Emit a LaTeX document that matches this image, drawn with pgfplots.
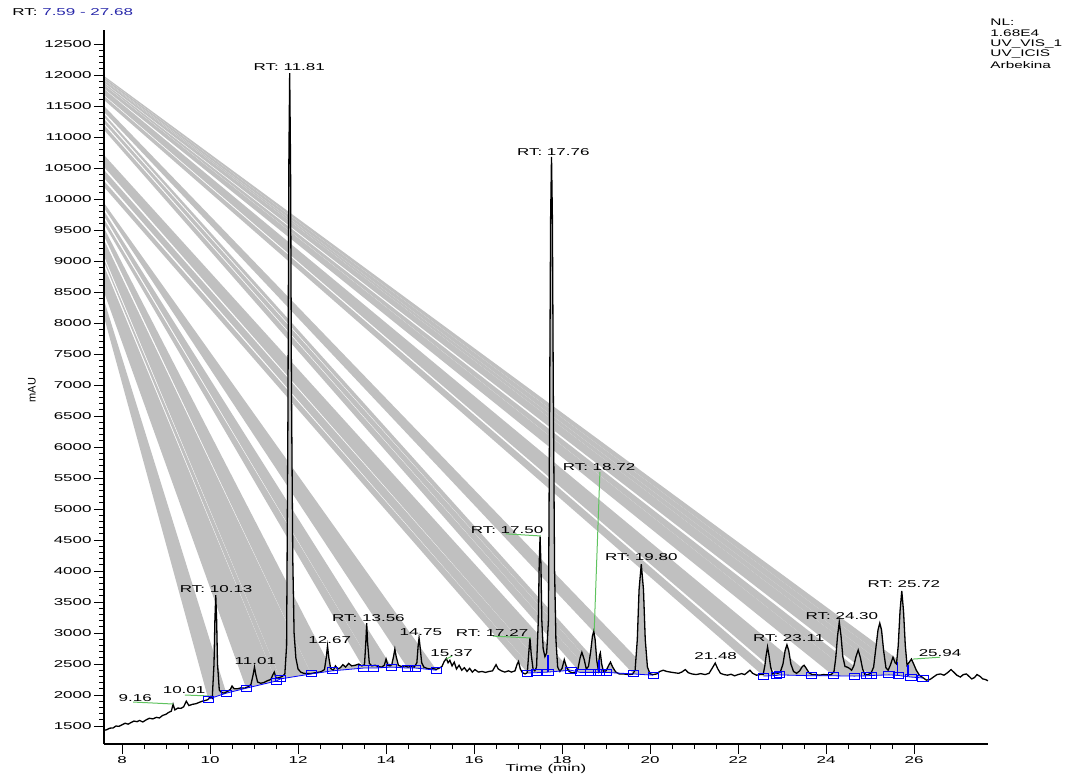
\documentclass[border=0pt]{standalone}
\usepackage{pgfplots}
\pgfplotsset{compat=1.18}
\usepackage{pgfplotstable}
\usepackage{fontspec}
\setmainfont{Liberation Sans}
\usepackage{graphicx}
\newcommand{\st}[1]{\scalebox{1.7}[1]{#1}}
\newcommand{\fs}{\fontsize{5}{6}\selectfont}
\definecolor{bandgray}{RGB}{192,192,192}
\definecolor{lgreen}{RGB}{95,195,95}
\definecolor{rtblue}{RGB}{40,40,170}

\pgfplotstableread{
t v
7.59 1430
7.65 1440
7.72 1465
7.80 1470
7.86 1500
7.93 1495
8.00 1520
8.07 1545
8.14 1530
8.20 1555
8.27 1580
8.34 1570
8.40 1590
8.47 1565
8.55 1600
8.62 1625
8.70 1615
8.78 1640
8.85 1630
8.92 1670
9.00 1690
9.06 1720
9.12 1740
9.16 1850
9.20 1760
9.27 1790
9.34 1785
9.40 1810
9.46 1900
9.52 1830
9.60 1850
9.68 1860
9.75 1880
9.82 1900
9.88 1910
9.95 1925
10.01 1975
10.05 1950
10.09 2500
10.11 3200
10.13 3610
10.15 3200
10.17 2500
10.21 2080
10.26 2040
10.32 2030
10.40 2060
10.46 2090
10.50 2145
10.55 2100
10.62 2100
10.70 2115
10.78 2110
10.86 2130
10.93 2170
10.98 2330
11.01 2450
11.04 2330
11.08 2210
11.15 2190
11.22 2200
11.30 2230
11.38 2250
11.43 2330
11.46 2370
11.50 2270
11.57 2280
11.64 2300
11.70 2340
11.74 2800
11.77 6500
11.79 10500
11.81 12030
11.83 10500
11.85 7000
11.88 4200
11.91 3000
11.95 2600
12.00 2420
12.06 2370
12.13 2350
12.20 2345
12.28 2345
12.36 2355
12.44 2365
12.52 2375
12.60 2410
12.64 2600
12.67 2790
12.70 2600
12.74 2430
12.80 2400
12.85 2470
12.90 2420
12.96 2440
13.02 2490
13.08 2450
13.15 2510
13.22 2470
13.30 2480
13.38 2500
13.45 2470
13.51 2490
13.54 2850
13.56 3160
13.58 2850
13.62 2510
13.68 2470
13.75 2480
13.82 2460
13.90 2450
13.96 2480
14.00 2580
14.04 2480
14.09 2470
14.13 2490
14.17 2620
14.20 2740
14.23 2620
14.28 2480
14.35 2460
14.42 2470
14.50 2450
14.57 2460
14.64 2450
14.70 2520
14.73 2800
14.75 2920
14.77 2800
14.81 2520
14.86 2450
14.93 2430
15.00 2420
15.07 2425
15.14 2415
15.20 2430
15.27 2460
15.32 2540
15.37 2590
15.41 2520
15.45 2560
15.50 2470
15.55 2530
15.60 2420
15.66 2480
15.72 2400
15.78 2440
15.84 2380
15.90 2430
15.96 2370
16.02 2410
16.10 2370
16.18 2380
16.26 2365
16.34 2380
16.42 2390
16.46 2440
16.50 2490
16.55 2420
16.62 2390
16.70 2370
16.78 2390
16.85 2370
16.93 2390
16.98 2500
17.01 2540
17.05 2420
17.10 2360
17.16 2340
17.21 2360
17.24 2650
17.27 2920
17.30 2650
17.34 2420
17.38 2390
17.42 2450
17.46 3200
17.48 4100
17.50 4560
17.52 4100
17.54 3200
17.57 2750
17.61 2620
17.65 2680
17.69 3200
17.72 7000
17.74 9700
17.76 10680
17.78 9700
17.80 7000
17.83 4000
17.86 2900
17.90 2450
17.95 2380
18.00 2430
18.05 2570
18.10 2450
18.16 2380
18.22 2360
18.30 2360
18.36 2420
18.41 2600
18.45 2690
18.50 2580
18.55 2420
18.60 2460
18.65 2700
18.69 2950
18.72 3030
18.75 2900
18.79 2550
18.82 2420
18.85 2640
18.87 2680
18.90 2500
18.94 2380
19.00 2390
19.06 2480
19.10 2530
19.15 2450
19.22 2370
19.30 2340
19.40 2340
19.50 2330
19.60 2335
19.66 2400
19.71 2900
19.75 3700
19.80 4110
19.85 3700
19.89 2900
19.94 2450
20.00 2340
20.07 2330
20.15 2340
20.22 2380
20.30 2400
20.38 2380
20.46 2370
20.55 2360
20.65 2350
20.72 2370
20.80 2410
20.87 2360
20.95 2340
21.05 2330
21.15 2345
21.25 2330
21.34 2350
21.41 2430
21.48 2515
21.54 2420
21.60 2350
21.68 2330
21.76 2320
21.84 2335
21.92 2310
22.00 2330
22.08 2345
22.15 2330
22.22 2370
22.27 2400
22.33 2350
22.42 2320
22.50 2330
22.57 2330
22.61 2480
22.64 2650
22.67 2775
22.70 2650
22.74 2450
22.79 2340
22.85 2360
22.90 2350
22.96 2370
23.02 2500
23.07 2720
23.11 2810
23.15 2720
23.20 2500
23.26 2380
23.33 2350
23.40 2390
23.46 2460
23.50 2480
23.55 2430
23.61 2360
23.68 2330
23.76 2330
23.85 2320
23.94 2330
24.03 2325
24.12 2330
24.18 2380
24.22 2600
24.26 2950
24.30 3180
24.34 2950
24.38 2620
24.43 2460
24.48 2450
24.53 2430
24.58 2400
24.63 2470
24.68 2620
24.73 2725
24.78 2600
24.83 2420
24.88 2330
24.95 2330
25.02 2350
25.08 2450
25.13 2750
25.18 3050
25.22 3160
25.26 3050
25.31 2700
25.36 2440
25.41 2400
25.46 2480
25.52 2610
25.57 2520
25.60 2500
25.64 2800
25.68 3350
25.72 3680
25.76 3350
25.80 2800
25.84 2480
25.88 2520
25.94 2580
25.99 2500
26.05 2400
26.12 2320
26.20 2280
26.28 2240
26.36 2250
26.44 2290
26.52 2330
26.60 2340
26.68 2320
26.76 2360
26.84 2410
26.90 2370
26.97 2320
27.05 2290
27.12 2330
27.19 2340
27.25 2300
27.31 2260
27.37 2280
27.43 2330
27.50 2300
27.56 2260
27.62 2250
27.68 2230
}\trace

\begin{document}
\begin{tikzpicture}
\begin{axis}[
  at={(0,0)}, anchor=south west, scale only axis,
  width=442pt, height=357pt,
  xmin=7.59, xmax=27.68, ymin=1210, ymax=12726,
  scaled x ticks=false, scaled y ticks=false,
  axis on top,
  axis x line*=bottom, axis y line*=left,
  axis line style={black, line width=0.6pt, -},
  tick align=outside,
  major tick length=5pt, minor tick length=2.5pt,
  tick style={black, line width=0.5pt},
  xtick={8,10,12,14,16,18,20,22,24,26},
  xticklabels={\st{8},\st{10},\st{12},\st{14},\st{16},\st{18},\st{20},\st{22},\st{24},\st{26}},
  minor x tick num=3,
  ytick={1500,2000,2500,3000,3500,4000,4500,5000,5500,6000,6500,7000,7500,8000,8500,9000,9500,10000,10500,11000,11500,12000,12500},
  yticklabels={\st{1500},\st{2000},\st{2500},\st{3000},\st{3500},\st{4000},\st{4500},\st{5000},\st{5500},\st{6000},\st{6500},\st{7000},\st{7500},\st{8000},\st{8500},\st{9000},\st{9500},\st{10000},\st{10500},\st{11000},\st{11500},\st{12000},\st{12500}},
  minor y tick num=4,
  tick label style={font=\fs, inner sep=1pt},
]
% bands
\addplot[draw=none, fill=bandgray, forget plot] coordinates {(7.59,11662) (22.87,2315) (22.58,2305) (7.59,11597)};
\addplot[draw=none, fill=bandgray, forget plot] coordinates {(7.59,11775) (23.67,2310) (22.94,2325) (7.59,11678)};
\addplot[draw=none, fill=bandgray, forget plot] coordinates {(7.59,11839) (24.65,2305) (24.17,2310) (7.59,11783)};
\addplot[draw=none, fill=bandgray, forget plot] coordinates {(7.59,11872) (24.92,2310) (24.65,2305) (7.59,11845)};
\addplot[draw=none, fill=bandgray, forget plot] coordinates {(7.59,11912) (25.43,2325) (25.02,2315) (7.59,11880)};
\addplot[draw=none, fill=bandgray, forget plot] coordinates {(7.59,11928) (25.65,2315) (25.43,2325) (7.59,11914)};
\addplot[draw=none, fill=bandgray, forget plot] coordinates {(7.59,11960) (25.93,2290) (25.65,2315) (7.59,11930)};
\addplot[draw=none, fill=bandgray, forget plot] coordinates {(7.59,11985) (26.20,2275) (25.93,2290) (7.59,11962)};
\addplot[draw=none, fill=bandgray, forget plot] coordinates {(7.59,11501) (20.07,2320) (19.62,2340) (7.59,11404)};
\addplot[draw=none, fill=bandgray, forget plot] coordinates {(7.59,11372) (19.00,2365) (18.84,2365) (7.59,11323)};
\addplot[draw=none, fill=bandgray, forget plot] coordinates {(7.59,11291) (18.84,2365) (18.64,2365) (7.59,11227)};
\addplot[draw=none, fill=bandgray, forget plot] coordinates {(7.59,11194) (18.64,2365) (18.41,2365) (7.59,11114)};
\addplot[draw=none, fill=bandgray, forget plot] coordinates {(7.59,10710) (18.20,2400) (17.68,2370) (7.59,10517)};
\addplot[draw=none, fill=bandgray, forget plot] coordinates {(7.59,10468) (17.68,2370) (17.41,2360) (7.59,10339)};
\addplot[draw=none, fill=bandgray, forget plot] coordinates {(7.59,10290) (17.41,2360) (17.22,2355) (7.59,10194)};
\addplot[draw=none, fill=bandgray, forget plot] coordinates {(7.59,9936) (15.15,2400) (14.49,2435) (7.59,9855)};
\addplot[draw=none, fill=bandgray, forget plot] coordinates {(7.59,9807) (14.13,2450) (13.72,2435) (7.59,9726)};
\addplot[draw=none, fill=bandgray, forget plot] coordinates {(7.59,9678) (13.72,2435) (13.49,2435) (7.59,9597)};
\addplot[draw=none, fill=bandgray, forget plot] coordinates {(7.59,9533) (12.78,2390) (12.30,2340) (7.59,9404)};
\addplot[draw=none, fill=bandgray, forget plot] coordinates {(7.59,9339) (12.30,2340) (11.60,2260) (7.59,9081)};
\addplot[draw=none, fill=bandgray, forget plot] coordinates {(7.59,9033) (11.60,2260) (11.50,2225) (7.59,8984)};
\addplot[draw=none, fill=bandgray, forget plot] coordinates {(7.59,8920) (11.50,2225) (10.82,2110) (7.59,8500)};
\addplot[draw=none, fill=bandgray, forget plot] coordinates {(7.59,8371) (10.37,2030) (9.96,1935) (7.59,8097)};
% peak areas: gray under trace, white under baseline
\addplot[draw=none, fill=bandgray, forget plot, restrict x to domain=9.96:15.15] table[x=t,y=v] {\trace} \closedcycle;
\addplot[draw=none, fill=bandgray, forget plot, restrict x to domain=17.22:20.07] table[x=t,y=v] {\trace} \closedcycle;
\addplot[draw=none, fill=bandgray, forget plot, restrict x to domain=22.58:26.20] table[x=t,y=v] {\trace} \closedcycle;
\addplot[draw=none, fill=white, forget plot] coordinates {(9.80,1935) (9.96,1935) (10.37,2030) (10.82,2110) (11.50,2225) (11.60,2260) (12.30,2340) (12.78,2390) (13.49,2435) (13.72,2435) (14.13,2450) (14.49,2435) (14.67,2435) (15.15,2400) (15.30,2400)} \closedcycle;
\addplot[draw=none, fill=white, forget plot] coordinates {(17.10,2355) (17.22,2355) (17.41,2360) (17.68,2370) (18.20,2400) (18.41,2365) (18.64,2365) (18.84,2365) (19.00,2365) (19.62,2340) (20.07,2320) (20.20,2320)} \closedcycle;
\addplot[draw=none, fill=white, forget plot] coordinates {(22.45,2305) (22.58,2305) (22.87,2315) (22.94,2325) (23.67,2310) (24.17,2310) (24.65,2305) (24.92,2310) (25.02,2315) (25.43,2325) (25.65,2315) (25.93,2290) (26.20,2275) (26.35,2275)} \closedcycle;
% trace
\addplot[black, line width=0.65pt] table[x=t,y=v] {\trace};
% baselines
\addplot[blue, line width=0.4pt, mark=square, mark size=1.5pt, mark options={solid, line width=0.45pt, xscale=1.7}] coordinates {(9.96,1935) (10.37,2030) (10.82,2110) (11.50,2225) (11.60,2260) (12.30,2340) (12.78,2390) (13.49,2435) (13.72,2435) (14.13,2450) (14.49,2435) (14.67,2435) (15.15,2400)};
\addplot[blue, line width=0.4pt, mark=square, mark size=1.5pt, mark options={solid, line width=0.45pt, xscale=1.7}] coordinates {(17.22,2355) (17.41,2360) (17.68,2370) (18.20,2400) (18.41,2365) (18.64,2365) (18.84,2365) (19.00,2365) (19.62,2340) (20.07,2320)};
\addplot[blue, line width=0.4pt, mark=square, mark size=1.5pt, mark options={solid, line width=0.45pt, xscale=1.7}] coordinates {(22.58,2305) (22.87,2315) (22.94,2325) (23.67,2310) (24.17,2310) (24.65,2305) (24.92,2310) (25.02,2315) (25.43,2325) (25.65,2315) (25.93,2290) (26.20,2275)};
\addplot[blue, line width=0.7pt] coordinates {(17.68,2370) (17.68,2640)};
\addplot[blue, line width=0.7pt] coordinates {(18.84,2365) (18.84,2560)};
\addplot[blue, line width=0.7pt] coordinates {(25.62,2320) (25.62,2530)};
\addplot[blue, line width=0.7pt] coordinates {(25.86,2300) (25.86,2480)};
% green leaders
\addplot[lgreen, line width=0.5pt] coordinates {(8.25,1887) (9.16,1855)};
\addplot[lgreen, line width=0.5pt] coordinates {(9.43,2000) (9.98,1985)};
\addplot[lgreen, line width=0.5pt] coordinates {(15.37,2580) (15.50,2630)};
\addplot[lgreen, line width=0.5pt] coordinates {(16.43,2950) (17.29,2920)};
\addplot[lgreen, line width=0.5pt] coordinates {(16.72,4600) (17.52,4565)};
\addplot[lgreen, line width=0.5pt] coordinates {(18.86,5600) (18.73,3030)};
\addplot[lgreen, line width=0.5pt] coordinates {(25.98,2580) (26.59,2610)};
% labels
\begin{scope}[every node/.style={font=\fs, inner sep=0pt}]
\node at (axis cs:8.30,1950) {\st{9.16}};
\node at (axis cs:9.41,2080) {\st{10.01}};
\node at (axis cs:10.14,3710) {\st{RT: 10.13}};
\node at (axis cs:11.03,2550) {\st{11.01}};
\node at (axis cs:11.80,12130) {\st{RT: 11.81}};
\node at (axis cs:12.72,2890) {\st{12.67}};
\node at (axis cs:13.60,3240) {\st{RT: 13.56}};
\node at (axis cs:14.79,3015) {\st{14.75}};
\node at (axis cs:15.49,2680) {\st{15.37}};
\node at (axis cs:16.41,3000) {\st{RT: 17.27}};
\node at (axis cs:16.75,4660) {\st{RT: 17.50}};
\node at (axis cs:17.80,10760) {\st{RT: 17.76}};
\node at (axis cs:18.84,5680) {\st{RT: 18.72}};
\node at (axis cs:19.80,4230) {\st{RT: 19.80}};
\node at (axis cs:21.49,2630) {\st{21.48}};
\node at (axis cs:23.15,2920) {\st{RT: 23.11}};
\node at (axis cs:24.36,3270) {\st{RT: 24.30}};
\node at (axis cs:25.77,3790) {\st{RT: 25.72}};
\node at (axis cs:26.59,2680) {\st{25.94}};
\end{scope}
\end{axis}
\node[font=\fontsize{5.5}{6.5}\selectfont, rotate=90, inner sep=0pt] at (-36pt,177pt) {mAU};
\node[font=\fs, inner sep=0pt] at (221pt,-12.5pt) {\st{Time (min)}};
\node[font=\fs, inner sep=0pt, anchor=west] at (-46pt,366pt) {\st{RT: \textcolor{rtblue}{7.59 - 27.68}}};
\begin{scope}[every node/.style={font=\fontsize{4.8}{5.5}\selectfont, inner sep=0pt, anchor=west}]
\node at (443pt,361pt) {\scalebox{1.6}[1]{NL:}};
\node at (443pt,355.5pt) {\scalebox{1.6}[1]{1.68E4}};
\node at (443pt,350pt) {\scalebox{1.6}[1]{UV\_VIS\_1}};
\node at (443pt,344.75pt) {\scalebox{1.6}[1]{UV\_ICIS}};
\node at (443pt,339.25pt) {\scalebox{1.6}[1]{Arbekina}};
\end{scope}
\path (-52pt,-16pt) rectangle (482pt,372pt);
\end{tikzpicture}
\end{document}
